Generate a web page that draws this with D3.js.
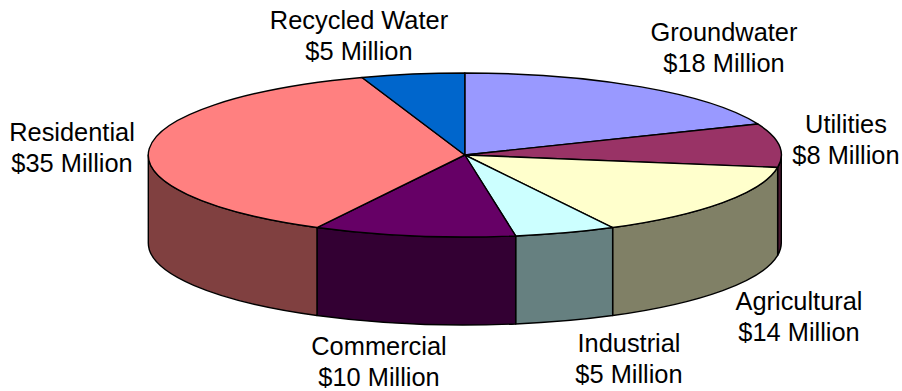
<!DOCTYPE html>
<html><head><meta charset="utf-8">
<script src="https://cdn.jsdelivr.net/npm/d3@7"></script>
<style>html,body{margin:0;padding:0;background:#fff}svg{display:block}text{font-family:"Liberation Sans",Arial,sans-serif;font-size:25.4px;fill:#000;text-anchor:middle}</style>
</head><body><svg id="c" width="902" height="391"></svg>
<script>
const categories=["Groundwater","Utilities","Agricultural","Industrial","Commercial","Residential","Recycled Water"];
const values=[18,8,14,5,10,35,5];
const topColors=["#9999FF","#993366","#FFFFCC","#CCFFFF","#660066","#FF8080","#0066CC"];
const sideColors=["#4D4D80","#4D1A33","#808066","#668080","#330033","#804040","#003366"];
const labelCentersX=[724,846,799,629,379,72,359];
const labelBaselinesY=[41,133,310,352,355,141,29];

const cx=464.8,cy=155,rx=316.5,ry=82,depth=88,lineGap=31,tilt=0.012;
const svg=d3.select("#c");
const xS=d3.scaleLinear().domain([-1,1]).range([cx-rx,cx+rx]);
const yS=d3.scaleLinear().domain([-1,1]).range([cy-ry,cy+ry]);
const HALF=Math.PI/2, TH=3*Math.PI/2;
// small foreshortening of the 3D view: pie angle -> projected angle on the ellipse
const warp=a=>a<TH?a-tilt*Math.sin(2*a):a;
const px=a=>xS(Math.sin(warp(a))), py=a=>yS(-Math.cos(warp(a)));
const arcs=d3.pie().sort(null).startAngle(0).endAngle(2*Math.PI)(values);

// walls (front half only)
const wallsG=svg.append("g");
arcs.forEach((d,i)=>{
  const a0=Math.max(d.startAngle,HALF), a1=Math.min(d.endAngle,TH);
  if(a1<=a0) return;
  const large=(a1-a0)>Math.PI?1:0;
  const p=`M${px(a0)},${py(a0)}A${rx},${ry} 0 ${large} 1 ${px(a1)},${py(a1)}`+
    `L${px(a1)},${py(a1)+depth}A${rx},${ry} 0 ${large} 0 ${px(a0)},${py(a0)+depth}Z`;
  wallsG.append("path").attr("d",p).attr("fill",sideColors[i]).attr("stroke","#000").attr("stroke-width",1.4).attr("stroke-linejoin","round");
});
// top face
const topG=svg.append("g");
arcs.forEach((d,i)=>{
  const large=(d.endAngle-d.startAngle)>Math.PI?1:0;
  const p=`M${cx},${cy}L${px(d.startAngle)},${py(d.startAngle)}A${rx},${ry} 0 ${large} 1 ${px(d.endAngle)},${py(d.endAngle)}Z`;
  topG.append("path").attr("d",p).attr("fill",topColors[i]).attr("stroke","#000").attr("stroke-width",1.4).attr("stroke-linejoin","round");
});
// labels
categories.forEach((c,i)=>{
  const t=svg.append("text").attr("x",labelCentersX[i]).attr("y",labelBaselinesY[i]);
  t.append("tspan").attr("x",labelCentersX[i]).text(c);
  t.append("tspan").attr("x",labelCentersX[i]).attr("dy",lineGap).text(`$${values[i]} Million`);
});
</script></body></html>
